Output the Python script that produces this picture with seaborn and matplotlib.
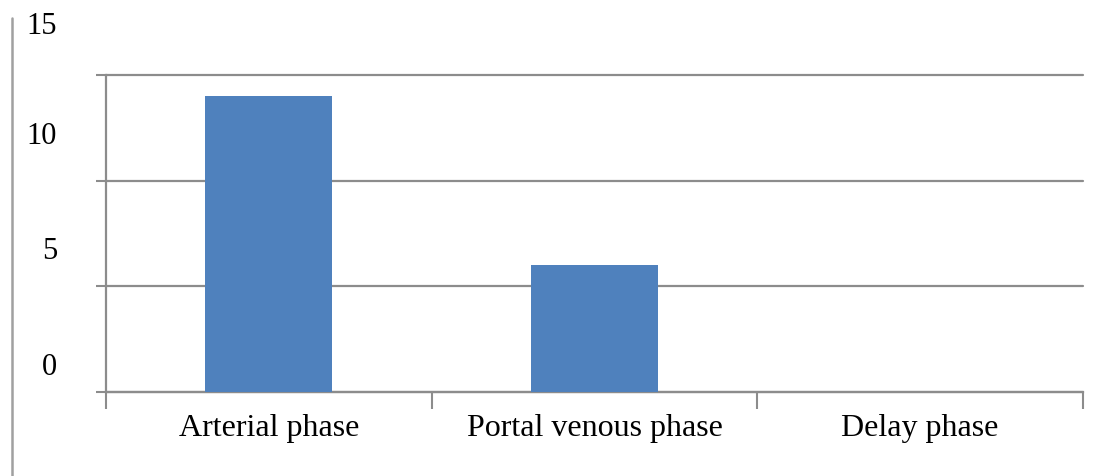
import matplotlib
matplotlib.use("Agg")
import matplotlib.pyplot as plt
import matplotlib.transforms as mtransforms
from matplotlib.lines import Line2D
import seaborn as sns
import pandas as pd

# data
phases = ["Arterial phase", "Portal venous phase", "Delay phase"]
counts = [14, 6, 0]
y_ticks = [0, 5, 10, 15]
y_tick_labels = ["0", "5", "10", "15"]

BAR_COLOR = "#4F81BD"
GRID_COLOR = "#8C8C8C"

sns.set_style("white")
plt.rcParams["font.family"] = ["Liberation Serif", "DejaVu Serif"]
plt.rcParams["text.color"] = "black"
plt.rcParams["xtick.color"] = GRID_COLOR
plt.rcParams["xtick.labelcolor"] = "black"

df = pd.DataFrame({"phase": phases, "count": counts})

fig = plt.figure(figsize=(11.11, 4.76), dpi=100)
ax = fig.add_axes([106 / 1111, 84 / 476, 977 / 1111, 317 / 476])

sns.barplot(data=df, x="phase", y="count", color=BAR_COLOR, width=0.39,
            saturation=1, linewidth=0, ax=ax, zorder=3)

ax.set_xlim(-0.5, len(phases) - 0.5)
ax.set_ylim(0, 15)
ax.set_xlabel("")
ax.set_ylabel("")

# horizontal gridlines, extended a bit left of the axis like the original
ax.set_yticks(y_ticks)
ax.set_yticklabels([])
ax.tick_params(axis="y", left=True, length=7.5, width=1.5,
               color=GRID_COLOR, direction="out")
ax.yaxis.grid(True, color=GRID_COLOR, linewidth=1.6, zorder=0)
for gl in ax.get_ygridlines():
    gl.set_clip_on(False)

# category labels in the middle, tick marks on the boundaries
ax.set_xticks(range(len(phases)))
ax.set_xticklabels(phases, fontsize=23, color="black")
ax.tick_params(axis="x", which="major", bottom=False, pad=12)
ax.set_xticks([i - 0.5 for i in range(len(phases) + 1)], minor=True)
ax.tick_params(axis="x", which="minor", bottom=True, length=12, width=1.5,
               color=GRID_COLOR, direction="out")

for side in ["top", "right"]:
    ax.spines[side].set_visible(False)
for side in ["left", "bottom"]:
    ax.spines[side].set_color(GRID_COLOR)
    ax.spines[side].set_linewidth(1.6)

# y labels sit above their gridlines in the original picture
label_pos = [1.14, 6.67, 12.07, 17.3]
trans = mtransforms.blended_transform_factory(ax.transAxes, ax.transData)
for pos, lab in zip(label_pos, y_tick_labels):
    ax.text(-0.05, pos, lab, transform=trans, ha="right", va="center",
            fontsize=22, color="black", clip_on=False)

# thin vertical rule at the far left of the figure
fig.add_artist(Line2D([12 / 1111, 12 / 1111], [0, 1 - 18 / 476],
                      transform=fig.transFigure, color="#A0A0A0", linewidth=1.8))

fig.savefig("out.png", dpi=100)
